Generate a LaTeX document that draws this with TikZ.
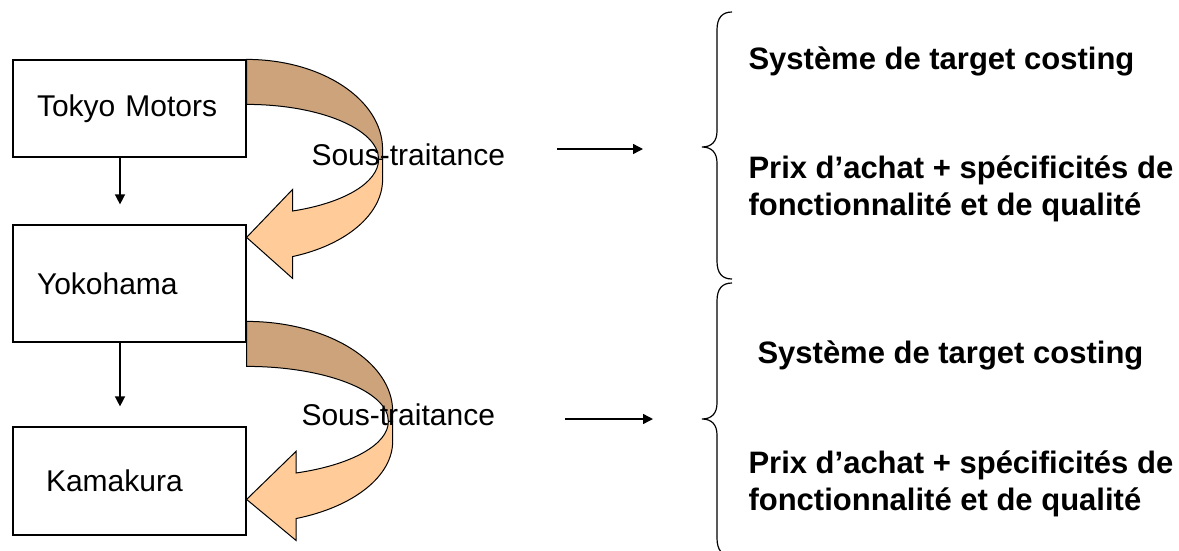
\documentclass[tikz,border=0pt]{standalone}
\usepackage{fontspec}
\setmainfont{Liberation Sans}
\usetikzlibrary{arrows.meta,calc}
\definecolor{bandback}{RGB}{204,163,122}
\definecolor{bandfront}{RGB}{255,204,153}
\begin{document}
\begin{tikzpicture}
[x=1pt,y=-1pt,font=\fontsize{30}{35}\selectfont,
  boxdecorate/.style={shape=rectangle,draw,line width=1.2pt,minimum width=233pt,align=left},
  arrowdecorate/.style={-{Triangle[length=10pt,width=10pt]},line width=1.4pt},
  banddecorate/.style={draw,line width=1pt},
  bracedecorate/.style={line width=1.2pt},
  notedecorate/.style={anchor=west,font=\fontsize{31}{36.5}\selectfont\bfseries,align=left}]
\useasboundingbox (0,0) rectangle (1179,550);
%% firms
\foreach \nodename/\ypos/\boxht/\inset/\textwd/\firm in {
  tokyo/108.5/97/24/185/Tokyo Motors, yoko/283.5/117/24/185/Yokohama,
  kama/481/108/33/167/Kamakura} {
  \node (\nodename) at (129.5,\ypos) [boxdecorate,minimum height=\boxht pt,
    inner xsep=\inset pt,text width=\textwd pt] {\firm};
}
%% hierarchy
\foreach \upper/\lower in {tokyo/yoko, yoko/kama}
  \draw[arrowdecorate] ([xshift=-9.5pt]\upper.south) -- ($([xshift=-9.5pt]\lower.north)+(0,-20)$);
%% sub-contracting bands
\coordinate (bend1) at (tokyo.north east);
\coordinate (bend2) at ($(yoko.north east)+(0,97)$);
\foreach \origin/\stretch in {bend1/1, bend2/1.074} {
  \begin{scope}[shift={(\origin)},xscale=\stretch]
    \filldraw[banddecorate,fill=bandback] (0,0)
      arc[start angle=-90,end angle=0,x radius=136,y radius=90]
      -- (136,100) -- (132,100)
      arc[start angle=0,end angle=-90,x radius=132,y radius=55] -- cycle;
    \filldraw[banddecorate,fill=bandfront] (136,100) -- (136,120)
      arc[start angle=0,end angle=70.2,x radius=136,y radius=82]
      -- (46,219) -- (0,178) -- (46,130) -- (46,151.6)
      arc[start angle=69.6,end angle=0,x radius=132,y radius=55] -- cycle;
  \end{scope}
}
\node (sub1) [anchor=west] at (308,155) {Sous-traitance};
\node (sub2) [anchor=west] at (298,415) {Sous-traitance};
%% arrows to the braces
\coordinate (from1) at (557,149); \coordinate (to1) at (643,149);
\coordinate (from2) at (565,419); \coordinate (to2) at (653,419);
\foreach \startnode/\endnode in {from1/to1, from2/to2}
  \draw[arrowdecorate] (\startnode) -- (\endnode);
%% braces
\foreach \bracetop/\bracemid/\bracebot in {12/147/279, 283/419/556} {
  \draw[bracedecorate] (732,\bracetop)
    .. controls (722,\bracetop) and (717,\bracetop+6) .. (717,\bracetop+18)
    -- (717,\bracemid-16)
    .. controls (717,\bracemid-6) and (712,\bracemid) .. (702,\bracemid)
    .. controls (712,\bracemid) and (717,\bracemid+6) .. (717,\bracemid+16)
    -- (717,\bracebot-18)
    .. controls (717,\bracebot-6) and (722,\bracebot) .. (732,\bracebot);
}
%% notes
\node (note1) [notedecorate] at (745,61) {Système de target costing};
\node (note2) [notedecorate] at (745,189) {Prix d’achat + spécificités de\\fonctionnalité et de qualité};
\node (note3) [notedecorate] at (754,355) {Système de target costing};
\node (note4) [notedecorate] at (745,484) {Prix d’achat + spécificités de\\fonctionnalité et de qualité};
\end{tikzpicture}
\end{document}
